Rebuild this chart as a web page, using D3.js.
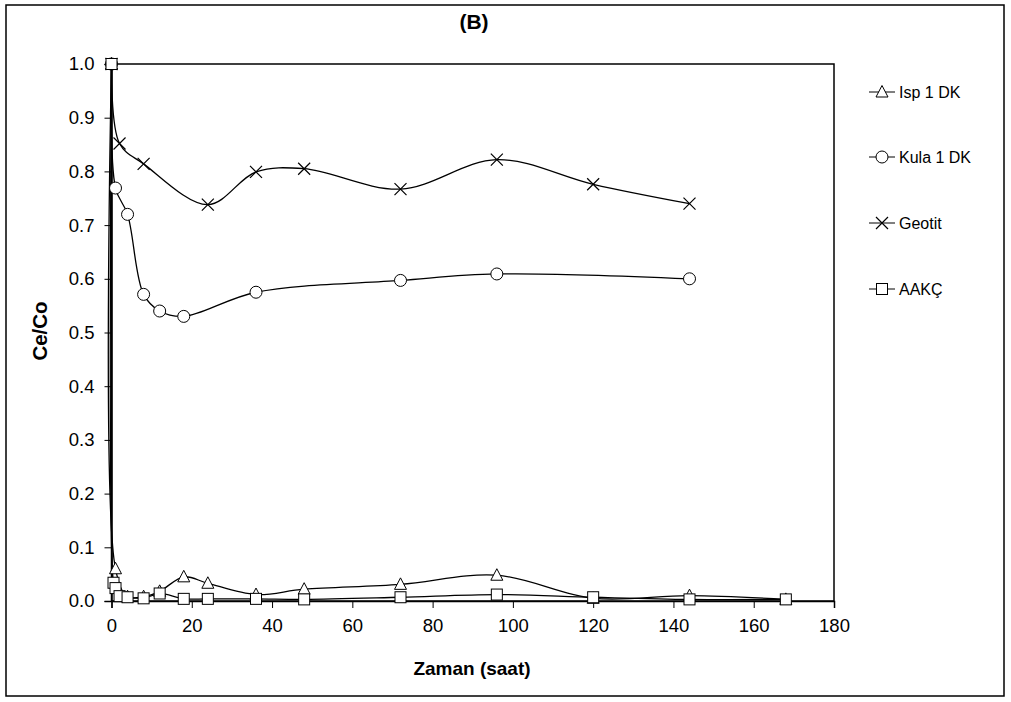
<!DOCTYPE html>
<html><head><meta charset="utf-8">
<script src="https://cdn.jsdelivr.net/npm/d3@7"></script>
<style>
body{margin:0;background:#fff;}
text{font-family:"Liberation Sans",Arial,sans-serif;fill:#000;}
</style></head>
<body><svg id="c" width="1011" height="702"></svg>
<script>
// ---- data ----
const ispTime  = [0, 1, 4, 8, 12, 18, 24, 36, 48, 72, 96, 120, 144, 168];
const ispVal   = [1.0, 0.06, 0.008, 0.008, 0.018, 0.045, 0.033, 0.012, 0.022, 0.031, 0.048, 0.005, 0.01, 0.003];
const kulaTime = [0, 1, 4, 8, 12, 18, 36, 72, 96, 144];
const kulaVal  = [1.0, 0.769, 0.72, 0.571, 0.54, 0.53, 0.575, 0.597, 0.609, 0.60];
const geoTime  = [0, 2, 8, 24, 36, 48, 72, 96, 120, 144];
const geoVal   = [1.0, 0.852, 0.814, 0.738, 0.799, 0.805, 0.767, 0.822, 0.776, 0.74];
const aakTime  = [0, 0.5, 1, 2, 4, 8, 12, 18, 24, 36, 48, 72, 96, 120, 144, 168];
const aakVal   = [1.0, 0.034, 0.024, 0.009, 0.007, 0.005, 0.014, 0.004, 0.004, 0.004, 0.003, 0.007, 0.012, 0.007, 0.003, 0.003];
const seriesNames = ["Isp 1 DK", "Kula 1 DK", "Geotit", "AAKÇ"];
const seriesMarkers = ["triangle", "circle", "cross", "square"];
const xTicks = [0, 20, 40, 60, 80, 100, 120, 140, 160, 180];
const yTicks = [0, 0.1, 0.2, 0.3, 0.4, 0.5, 0.6, 0.7, 0.8, 0.9, 1.0];
const titleText = "(B)";
const xLabel = "Zaman (saat)";
const yLabel = "Ce/Co";

const series = [
  {name: seriesNames[0], marker: seriesMarkers[0], pts: ispTime.map((t,i)=>[t, ispVal[i]])},
  {name: seriesNames[1], marker: seriesMarkers[1], pts: kulaTime.map((t,i)=>[t, kulaVal[i]])},
  {name: seriesNames[2], marker: seriesMarkers[2], pts: geoTime.map((t,i)=>[t, geoVal[i]])},
  {name: seriesNames[3], marker: seriesMarkers[3], pts: aakTime.map((t,i)=>[t, aakVal[i]])}
];

const svg = d3.select("#c");
// outer border
svg.append("rect").attr("x",6).attr("y",5).attr("width",998).attr("height",691)
  .attr("fill","none").attr("stroke","#000").attr("stroke-width",1.5);

const L=111.5, R=834, T=64, B=601;
const x = d3.scaleLinear().domain([0,180]).range([L,R]);
const y = d3.scaleLinear().domain([0,1]).range([B,T]);

// plot frame
svg.append("rect").attr("x",L).attr("y",T).attr("width",R-L).attr("height",B-T)
  .attr("fill","none").attr("stroke","#000").attr("stroke-width",1.5);

const xa = svg.append("g").attr("transform",`translate(0,${B})`)
  .call(d3.axisBottom(x).tickValues(xTicks).tickFormat(d3.format("d")).tickSize(7).tickPadding(11));
const ya = svg.append("g").attr("transform",`translate(${L},0)`)
  .call(d3.axisLeft(y).tickValues(yTicks).tickFormat(d3.format(".1f")).tickSize(7).tickPadding(10));
[xa,ya].forEach(g=>{
  g.select(".domain").attr("stroke","#000").attr("stroke-width",1.5);
  g.selectAll(".tick line").attr("stroke","#000").attr("stroke-width",1);
  g.selectAll(".tick text").attr("font-family","Liberation Sans, Arial, sans-serif").attr("font-size",18.5).attr("fill","#000");
});

svg.append("text").attr("x",474).attr("y",29).attr("text-anchor","middle")
  .attr("font-weight","bold").attr("font-size",21).text(titleText);
svg.append("text").attr("x",472).attr("y",675).attr("text-anchor","middle")
  .attr("font-weight","bold").attr("font-size",19).text(xLabel);
svg.append("text").attr("transform","translate(47,331) rotate(-90)").attr("text-anchor","middle")
  .attr("font-weight","bold").attr("font-size",20.5).text(yLabel);

const line = d3.line().x(d=>x(d[0])).y(d=>y(d[1])).curve(d3.curveCatmullRom.alpha(0.5));

function drawMarker(g, type, cx, cy){
  if(type==="triangle"){
    g.append("path").attr("d",`M${cx},${cy-6.5}L${cx+6},${cy+5}L${cx-6},${cy+5}Z`)
      .attr("fill","#fff").attr("stroke","#000").attr("stroke-width",1);
  } else if(type==="circle"){
    g.append("circle").attr("cx",cx).attr("cy",cy).attr("r",6)
      .attr("fill","#fff").attr("stroke","#000").attr("stroke-width",1);
  } else if(type==="square"){
    g.append("rect").attr("x",cx-5.5).attr("y",cy-5.5).attr("width",11).attr("height",11)
      .attr("fill","#fff").attr("stroke","#000").attr("stroke-width",1);
  } else {
    g.append("path").attr("d",`M${cx-6},${cy-6}L${cx+6},${cy+6}M${cx-6},${cy+6}L${cx+6},${cy-6}`)
      .attr("fill","none").attr("stroke","#000").attr("stroke-width",1.2);
  }
}

const plot = svg.append("g");
series.forEach(s=>{
  plot.append("path").datum(s.pts).attr("d",line).attr("fill","none")
    .attr("stroke","#000").attr("stroke-width",1.3);
});
series.forEach(s=>{
  const g = plot.append("g");
  s.pts.forEach(p=>drawMarker(g, s.marker, x(p[0]), y(p[1])));
});

// legend
const legY = [92, 157, 223, 289];
series.forEach((s,i)=>{
  const g = svg.append("g");
  g.append("line").attr("x1",869).attr("x2",895).attr("y1",legY[i]).attr("y2",legY[i])
    .attr("stroke","#000").attr("stroke-width",1);
  drawMarker(g, s.marker, 882, legY[i]);
  g.append("text").attr("x",899).attr("y",legY[i]+6).attr("font-size",16).text(s.name);
});
</script></body></html>
